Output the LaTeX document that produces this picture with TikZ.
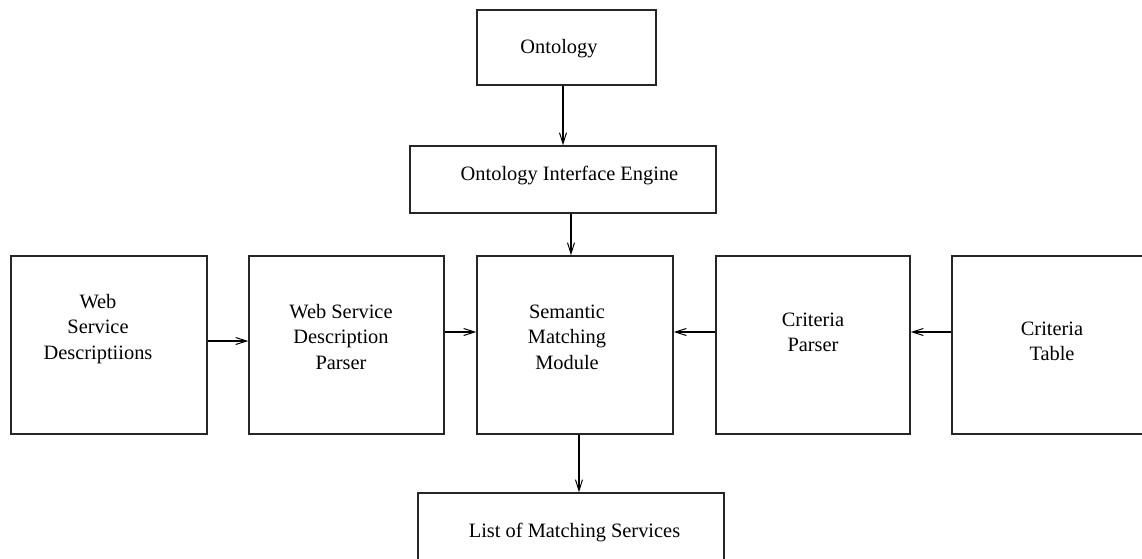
\documentclass[tikz,border=0pt]{standalone}
\usepackage{fontspec}
\setmainfont{Liberation Serif}
\usetikzlibrary{arrows.meta}
\tikzset{
  font={\fontsize{10.2pt}{12.7pt}\selectfont}}

\begin{document}
\begin{tikzpicture}[x=0.5pt,y=-0.5pt,line width=0.7pt,
  box/.style={draw=black!85,inner sep=0pt},
  lbl/.style={align=center,inner sep=0pt},
  flow/.style={-{Straight Barb[length=5.5pt,width=3.5pt,line width=0.5pt]}}]
\useasboundingbox (0,0) rectangle (1142,558);
\clip (0,0) rectangle (1142,558);
\tikzstyle{every node}+=[inner sep=0pt]
\node [box,minimum width=89.5pt,minimum height=37.5pt] (ont) at (566.5,47.5) {};
\node [lbl] (onttext) at (559,49) {Ontology};
\node [box,minimum width=153pt,minimum height=33.5pt] (oie) at (563,179.5) {};
\node [lbl] (oietext) at (569.5,176) {Ontology Interface Engine};
\node [box,minimum width=98pt,minimum height=89pt] (wsd) at (109,345) {};
\node [lbl] (wsdtext) at (98,329) {Web\\Service\\Descriptiions};
\node [box,minimum width=97.5pt,minimum height=89pt] (wsdp) at (346.5,345) {};
\node [lbl] (wsdptext) at (341,337) {Web Service\\Description\\Parser};
\node [box,minimum width=98pt,minimum height=89pt] (smm) at (575,345) {};
\node [lbl] (smmtext) at (567,337) {Semantic\\Matching\\Module};
\node [box,minimum width=97pt,minimum height=89pt] (cp) at (813,345) {};
\node [lbl] (cptext) at (813,332.5) {Criteria\\Parser};
\node [box,minimum width=104pt,minimum height=89pt] (ct) at (1056,345) {};
\node [lbl] (cttext) at (1052,341.5) {Criteria\\Table};
\node [box,minimum width=153pt,minimum height=53.5pt] (list) at (571,546.5) {};
\node [lbl] (listtext) at (574.5,533) {List of Matching Services};
\draw [flow] (ont.south -| oie.north) -- (oie.north);
\draw [flow] ([xshift=-2pt]oie.south -| smm.north) -- ([xshift=-2pt]smm.north);
\draw [flow] ([yshift=2pt]wsd.east) -- ([yshift=2pt]wsd.east -| wsdp.west);
\draw [flow] ([yshift=6.5pt]wsdp.east) -- ([yshift=6.5pt]wsdp.east -| smm.west);
\draw [flow] ([yshift=6.5pt]cp.west) -- ([yshift=6.5pt]cp.west -| smm.east);
\draw [flow] ([yshift=6.5pt]ct.west) -- ([yshift=6.5pt]ct.west -| cp.east);
\draw [flow] ([xshift=2pt]smm.south) -- ([xshift=2pt]smm.south |- list.north);
\end{tikzpicture}
\end{document}
